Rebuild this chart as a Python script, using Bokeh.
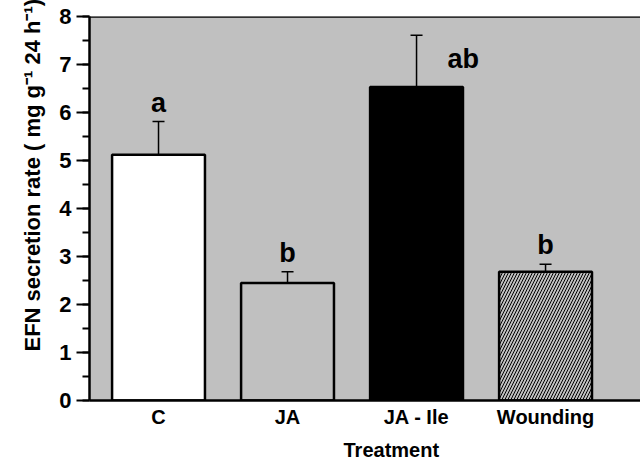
from bokeh.plotting import figure
from bokeh.models import (ColumnDataSource, Range1d, FixedTicker, SingleIntervalTicker,
                          Whisker, TeeHead, Span, Title)
from bokeh.core.properties import value
from bokeh.embed import file_html
from bokeh.resources import INLINE

# ---- data ----
categories = ["C", "JA", "JA - Ile", "Wounding"]
positions = [1, 2, 3, 4]
means = [5.12, 2.45, 6.53, 2.68]
errors = [0.69, 0.23, 1.08, 0.16]
letters = ["a", "b", "ab", "b"]

# ---- styles ----
fills = ["white", "#c0c0c0", "black", "#c0c0c0"]
hatches = ["blank", "blank", "blank", "right_diagonal_line"]
FONT = "Liberation Sans"
BG = "#c0c0c0"

upper = [m + e for m, e in zip(means, errors)]
src = ColumnDataSource(dict(x=positions, top=means, upper=upper,
                            fill=fills, hatch=hatches))

p = figure(width=640, height=466, output_backend="svg", toolbar_location=None,
           x_range=Range1d(0.465, 4.736), y_range=Range1d(0, 8),
           min_border_left=89, min_border_right=0, min_border_top=16,
           min_border_bottom=65)
p.background_fill_color = BG
p.border_fill_color = "white"
p.outline_line_color = None
p.grid.visible = False

p.vbar(x="x", top="top", bottom=0, width=0.72, source=src,
       fill_color="fill", line_color="black", line_width=2.5,
       hatch_pattern="hatch", hatch_color="black", hatch_scale=6, hatch_weight=1)

wh = Whisker(source=src, base="x", lower="top", upper="upper",
             upper_head=TeeHead(size=12, line_width=1.5, line_color="black"),
             lower_head=None, line_width=1.5, line_color="black", level="glyph")
p.add_layout(wh)

# significance letters
lsrc = ColumnDataSource(dict(
    x=[positions[i] for i in (0, 1, 3)],
    y=[upper[i] + 0.08 for i in (0, 1, 3)],
    t=[letters[i] for i in (0, 1, 3)]))
p.text(x="x", y="y", text="t", source=lsrc, text_align="center",
       text_baseline="bottom", text_font=value(FONT), text_font_style="bold",
       text_font_size="27px", text_color="black")
p.text(x=[positions[2] + 0.24], y=[upper[2] - 0.5], text=[letters[2]],
       text_align="left", text_baseline="middle", text_font=value(FONT),
       text_font_style="bold", text_font_size="27px", text_color="black")

# top border
p.add_layout(Span(location=8, dimension="width", line_color="black", line_width=2.5))

# x axis
xa = p.xaxis[0]
xa.ticker = FixedTicker(ticks=positions)
xa.major_label_overrides = {pos: c for pos, c in zip(positions, categories)}
xa.major_tick_out = 0
xa.major_tick_in = 0
xa.minor_tick_out = 0
xa.axis_line_width = 2.5
xa.axis_line_color = "black"
xa.major_label_standoff = 5
xa.major_label_text_font = FONT
xa.major_label_text_font_style = "bold"
xa.major_label_text_font_size = "20px"
xa.major_label_text_color = "black"

# y axis
ya = p.yaxis[0]
ya.ticker = SingleIntervalTicker(interval=1, num_minor_ticks=2)
ya.major_tick_out = 13
ya.major_tick_in = 0
ya.minor_tick_out = 7
ya.minor_tick_in = 0
ya.major_tick_line_width = 2
ya.minor_tick_line_width = 2
ya.axis_line_width = 2.5
ya.axis_line_color = "black"
ya.major_label_standoff = 5
ya.major_label_text_font = FONT
ya.major_label_text_font_style = "bold"
ya.major_label_text_font_size = "22px"
ya.major_label_text_color = "black"

ytitle = Title(text="EFN secretion rate  (  mg g\u207b\u00b9 24 h\u207b\u00b9)",
               align="left", offset=49, standoff=24,
               text_font=FONT, text_font_style="bold", text_font_size="22px",
               text_color="black")
p.add_layout(ytitle, "left")

xtitle = Title(text="Treatment", align="left", offset=254, standoff=12,
               text_font=FONT, text_font_style="bold", text_font_size="20px",
               text_color="black")
p.add_layout(xtitle, "below")

open("out.html", "w").write(file_html(p, INLINE))
